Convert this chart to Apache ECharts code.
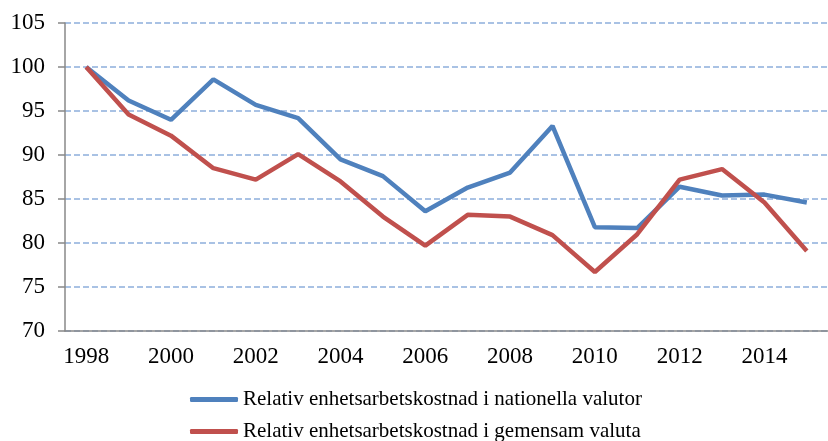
<!DOCTYPE html>
<html>
<head>
<meta charset="utf-8">
<script src="https://cdn.jsdelivr.net/npm/echarts@6/dist/echarts.min.js"></script>
<style>
  html, body { margin: 0; padding: 0; background: #fff; }
  #chart { width: 828px; height: 441px; }
</style>
</head>
<body>
<div id="chart"></div>
<script>
  // år och serier
  const years = ['1998', '1999', '2000', '2001', '2002', '2003', '2004', '2005', '2006',
    '2007', '2008', '2009', '2010', '2011', '2012', '2013', '2014', '2015']
  const nationellaValutor = [100, 96.2, 94.0, 98.6, 95.7, 94.2, 89.5, 87.6, 83.6,
    86.3, 88.0, 93.3, 81.8, 81.7, 86.4, 85.4, 85.5, 84.6]
  const gemensamValuta = [100, 94.6, 92.2, 88.5, 87.2, 90.1, 87.0, 83.0, 79.7,
    83.2, 83.0, 80.9, 76.7, 81.0, 87.2, 88.4, 84.6, 79.1]
  const seriesNames = ['Relativ enhetsarbetskostnad i nationella valutor',
    'Relativ enhetsarbetskostnad i gemensam valuta']

  const font = 'Liberation Serif'
  // en legend per rad, så att de hamnar under varandra
  function legendRow (name, top) {
    return {
      left: 190,
      top: top,
      padding: 0,
      itemWidth: 48,
      itemHeight: 5,
      icon: 'roundRect',
      textStyle: { fontFamily: font, fontSize: 21, color: '#000' },
      data: [name]
    }
  }

  let myChart = echarts.init(document.getElementById('chart'))
  myChart.setOption({
    animation: false,
    color: ['#4F81BD', '#C0504D'],
    grid: {
      left: 65,
      right: -9,
      top: 23,
      bottom: 110
    },
    legend: [
      legendRow(seriesNames[0], 389),
      legendRow(seriesNames[1], 421)
    ],
    xAxis: {
      type: 'category',
      data: years,
      boundaryGap: true,
      axisLine: { lineStyle: { color: '#888', width: 1.5 } },
      axisTick: { interval: 0, length: 6, lineStyle: { color: '#888', width: 1.5 } },
      axisLabel: { interval: 1, margin: 14, fontFamily: font, fontSize: 23, color: '#000' }
    },
    yAxis: {
      type: 'value',
      min: 70,
      max: 105,
      interval: 5,
      axisLine: { show: true, lineStyle: { color: '#888', width: 1.5 } },
      axisTick: { show: true, length: 7, lineStyle: { color: '#888', width: 1.5 } },
      axisLabel: { margin: 20, fontFamily: font, fontSize: 23, color: '#000' },
      splitLine: { lineStyle: { color: '#8DAEDC', type: [6, 3], width: 1.5 } }
    },
    series: [
      {
        name: seriesNames[0],
        type: 'line',
        data: nationellaValutor,
        symbol: 'none',
        lineStyle: { width: 4.5 }
      },
      {
        name: seriesNames[1],
        type: 'line',
        data: gemensamValuta,
        symbol: 'none',
        lineStyle: { width: 4.5 }
      }
    ]
  })
</script>
</body>
</html>
